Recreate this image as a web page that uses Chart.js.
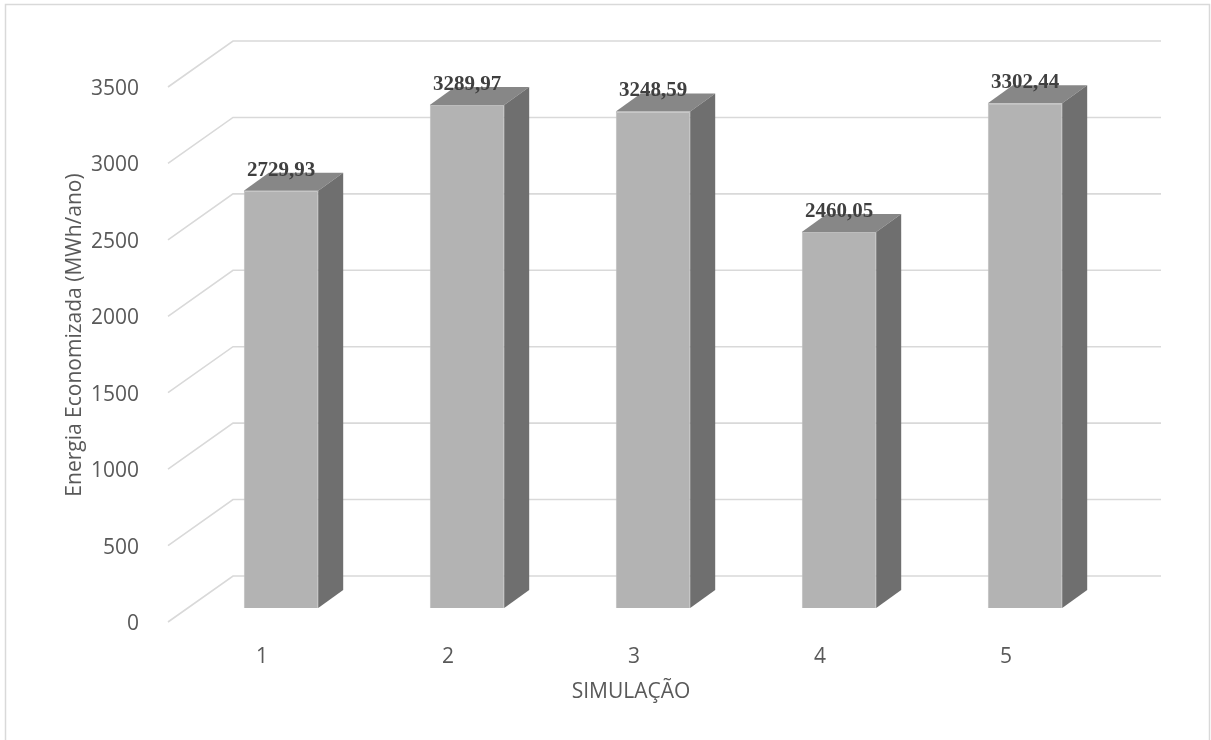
<!DOCTYPE html>
<html>
<head>
<meta charset="utf-8">
<script src="https://cdn.jsdelivr.net/npm/chart.js@4/dist/chart.umd.min.js"></script>
<style>
  html, body { margin: 0; padding: 0; background: #ffffff; }
  #wrap { width: 1211px; height: 740px; position: relative; }
</style>
</head>
<body>
<div id="wrap"><canvas id="c" width="1211" height="740"></canvas></div>
<script>
// Simulações e energia economizada (MWh/ano)
const categories = ['1', '2', '3', '4', '5'];
const energySaved = [2729.93, 3289.97, 3248.59, 2460.05, 3302.44];
const yTicks = [0, 500, 1000, 1500, 2000, 2500, 3000, 3500];
const yTitle = 'Energia Economizada (MWh/ano)';
const xTitle = 'SIMULAÇÃO';

const TICK_FONT = { family: "'Open Sans', 'Noto Sans', sans-serif", size: 21 };
const TICK_COLOR = '#595959';
const GRID_COLOR = '#d9d9d9';

// 3D projection offsets relative to the bar plane
const WALL = { dx: 45, dy: -32 };   // back wall
const FRONT = { dx: -20, dy: 14 };  // front edge of the side wall
const DEPTH = { dx: 25, dy: -18 };  // bar depth

const fmt = v => v.toFixed(2).replace('.', ',');

// Back wall and side wall gridlines
const wallGrid = {
  id: 'wallGrid',
  beforeDatasetsDraw(chart) {
    const { ctx, chartArea, scales: { y } } = chart;
    ctx.save();
    ctx.strokeStyle = GRID_COLOR;
    ctx.lineWidth = 1.6;
    yTicks.forEach(v => {
      const py = y.getPixelForValue(v);
      ctx.beginPath();
      ctx.moveTo(chartArea.left + FRONT.dx, py + FRONT.dy);
      ctx.lineTo(chartArea.left + WALL.dx, py + WALL.dy);
      ctx.lineTo(chartArea.right + WALL.dx - 2, py + WALL.dy);
      ctx.stroke();
    });
    ctx.restore();
  }
};

// Top and side faces of each bar, plus value labels
const bar3d = {
  id: 'bar3d',
  afterDatasetsDraw(chart) {
    const { ctx } = chart;
    const meta = chart.getDatasetMeta(0);
    ctx.save();
    meta.data.forEach((bar) => {
      const { x, y, base, width } = bar.getProps(['x', 'y', 'base', 'width'], true);
      const l = x - width / 2, r = x + width / 2;
      // top face
      ctx.beginPath();
      ctx.moveTo(l, y);
      ctx.lineTo(r, y);
      ctx.lineTo(r + DEPTH.dx, y + DEPTH.dy);
      ctx.lineTo(l + DEPTH.dx, y + DEPTH.dy);
      ctx.closePath();
      ctx.fillStyle = '#878787';
      ctx.fill();
      // side face
      ctx.beginPath();
      ctx.moveTo(r, y);
      ctx.lineTo(r + DEPTH.dx, y + DEPTH.dy);
      ctx.lineTo(r + DEPTH.dx, base + DEPTH.dy);
      ctx.lineTo(r, base);
      ctx.closePath();
      ctx.fillStyle = '#6f6f6f';
      ctx.fill();
    });
    meta.data.forEach((bar, i) => {
      const { x, y } = bar.getProps(['x', 'y'], true);
      ctx.font = "bold 21px 'Liberation Serif', 'Times New Roman', serif";
      ctx.fillStyle = '#3f3f3f';
      ctx.textAlign = 'center';
      ctx.textBaseline = 'alphabetic';
      ctx.fillText(fmt(energySaved[i]), x, y - 15);
    });
    ctx.restore();
  }
};

// Axis titles and outer frame
const frame = {
  id: 'frame',
  afterDraw(chart) {
    const { ctx, chartArea } = chart;
    ctx.save();
    ctx.strokeStyle = '#d9d9d9';
    ctx.lineWidth = 1.5;
    ctx.strokeRect(5.5, 4.5, 1204, 760);
    ctx.fillStyle = TICK_COLOR;
    ctx.font = "21px 'Open Sans', 'Noto Sans', sans-serif";
    ctx.textAlign = 'center';
    ctx.textBaseline = 'middle';
    ctx.fillText(xTitle, chartArea.left + 443, chartArea.bottom + 84);
    ctx.translate(75, chartArea.top + 262);
    ctx.rotate(-Math.PI / 2);
    ctx.fillText(yTitle, 0, 0);
    ctx.restore();
  }
};

new Chart(document.getElementById('c'), {
  type: 'bar',
  data: {
    labels: categories,
    datasets: [{
      data: energySaved,
      backgroundColor: '#b3b3b3',
      borderColor: '#bdbdbd',
      borderWidth: 1,
      barPercentage: 0.4,
      categoryPercentage: 1
    }]
  },
  options: {
    responsive: false,
    animation: false,
    devicePixelRatio: 1,
    layout: { padding: { left: 0, right: 93, top: 73, bottom: 0 } },
    plugins: {
      legend: { display: false },
      tooltip: { enabled: false }
    },
    scales: {
      x: {
        grid: { display: false },
        border: { display: false },
        ticks: { color: TICK_COLOR, font: TICK_FONT, padding: 28, labelOffset: -19 },
        afterFit(scale) { scale.height = 132; }
      },
      y: {
        min: 0,
        max: 3500,
        grid: { display: false },
        border: { display: false },
        ticks: {
          stepSize: 500,
          color: TICK_COLOR,
          font: TICK_FONT,
          padding: 41,
          labelOffset: 16,
          callback: (v) => yTicks.includes(v) ? String(v) : ''
        },
        afterFit(scale) { scale.width = 188; }
      }
    }
  },
  plugins: [wallGrid, bar3d, frame]
});
</script>
</body>
</html>
